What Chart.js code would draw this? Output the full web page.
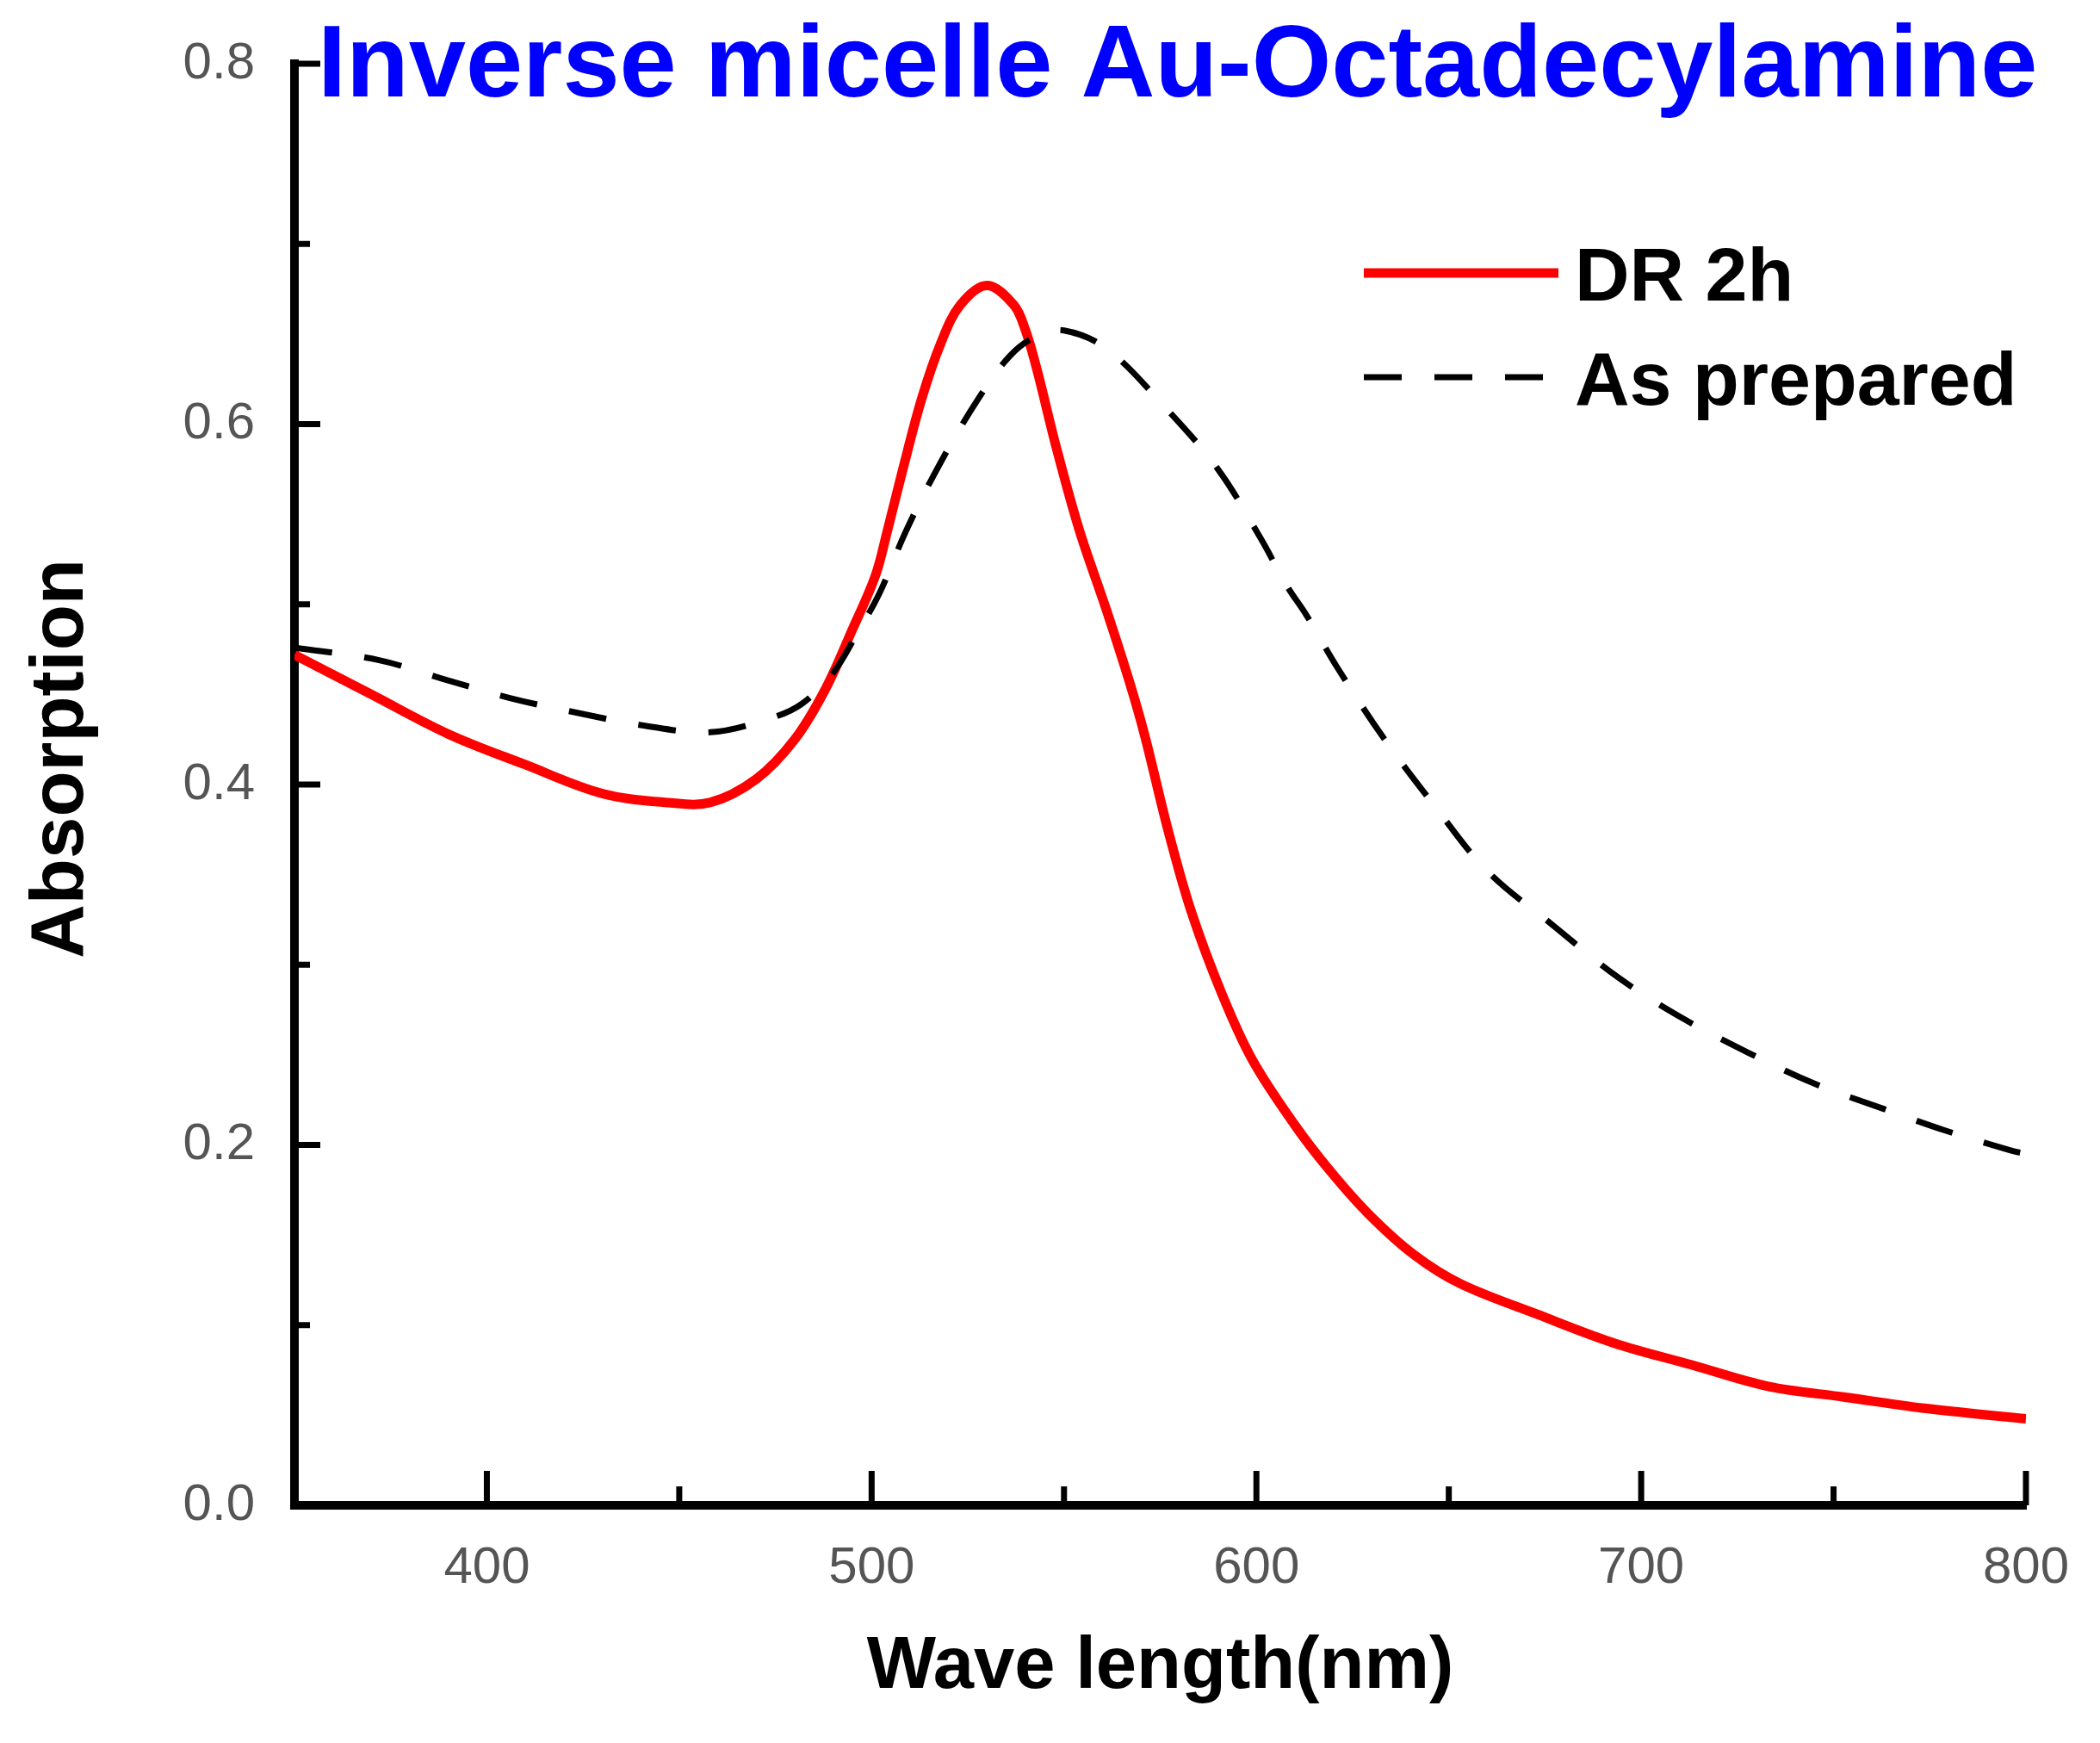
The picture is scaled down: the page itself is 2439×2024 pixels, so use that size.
<!DOCTYPE html>
<html>
<head>
<meta charset="utf-8">
<script src="https://cdn.jsdelivr.net/npm/chart.js@4.4.1/dist/chart.umd.min.js"></script>
<style>
  html, body { margin: 0; padding: 0; background: #fff; }
  #wrap { width: 2439px; height: 2024px; }
</style>
</head>
<body>
<div id="wrap"><canvas id="chart" width="2439" height="2024"></canvas></div>
<script>
const chartTitle = 'Inverse micelle Au-Octadecylamine';
const xAxisTitle = 'Wave length(nm)';
const yAxisTitle = 'Absorption';
const seriesLabels = ['DR 2h', 'As prepared'];
const xMajorTicks = [400, 500, 600, 700, 800];
const yMajorTicks = [0, 0.2, 0.4, 0.6, 0.8];

// DR 2h (red, solid)
const wavelengthDR = [350, 370, 390, 410, 430, 447, 458, 470, 480, 488, 495, 501, 504, 508, 513, 518, 523, 530, 537, 540, 543, 548, 554, 561, 567, 571, 577, 583, 591, 599, 610, 619, 629, 641, 653, 673, 693, 713, 733, 753, 773, 800];
const absorptionDR = [0.472, 0.450, 0.428, 0.411, 0.395, 0.390, 0.390, 0.403, 0.425, 0.453, 0.486, 0.516, 0.540, 0.574, 0.614, 0.645, 0.666, 0.677, 0.666, 0.652, 0.630, 0.587, 0.541, 0.497, 0.457, 0.427, 0.375, 0.330, 0.284, 0.247, 0.211, 0.186, 0.162, 0.139, 0.123, 0.106, 0.090, 0.078, 0.066, 0.060, 0.054, 0.048];

// As prepared (black, dashed)
const wavelengthAP = [350, 372, 388, 406, 423, 440, 458, 474, 482, 490, 496, 502, 509, 518, 528, 536, 543, 550, 561, 576, 590, 601, 608, 613, 621, 633, 646, 660, 677, 694, 711, 728, 745, 763, 779, 796, 800];
const absorptionAP = [0.476, 0.469, 0.459, 0.448, 0.440, 0.433, 0.429, 0.437, 0.445, 0.462, 0.483, 0.506, 0.541, 0.579, 0.615, 0.638, 0.649, 0.652, 0.642, 0.610, 0.575, 0.537, 0.510, 0.494, 0.465, 0.426, 0.389, 0.352, 0.322, 0.293, 0.270, 0.251, 0.234, 0.220, 0.208, 0.197, 0.195];

const FONT = "'Liberation Sans', Arial, Helvetica, sans-serif";

const toPoints = (xs, ys) => xs.map((x, i) => ({ x: x, y: ys[i] }));
const isMajorY = v => yMajorTicks.some(m => Math.abs(m - v) < 1e-6);

// inward tick marks, titles and legend
const decorPlugin = {
    id: 'decor',
    afterDraw(chart) {
        const ctx = chart.ctx;
        const { left, top, bottom } = chart.chartArea;
        const xs = chart.scales.x;
        const ys = chart.scales.y;

        ctx.save();
        ctx.strokeStyle = '#000';
        ctx.lineWidth = 7;
        xs.ticks.forEach(t => {
            const px = xs.getPixelForValue(t.value);
            const len = xMajorTicks.includes(t.value) ? 40 : 22;
            ctx.beginPath();
            ctx.moveTo(px, bottom);
            ctx.lineTo(px, bottom - len);
            ctx.stroke();
        });
        ys.ticks.forEach(t => {
            const py = ys.getPixelForValue(t.value);
            const len = isMajorY(t.value) ? 30 : 18;
            ctx.beginPath();
            ctx.moveTo(left, py);
            ctx.lineTo(left + len, py);
            ctx.stroke();
        });

        // y axis title (sits a little above the plot centre)
        ctx.save();
        ctx.translate(72, (top + bottom) / 2 - 30);
        ctx.rotate(-Math.PI / 2);
        ctx.fillStyle = '#000';
        ctx.font = `bold 87px ${FONT}`;
        ctx.textAlign = 'center';
        ctx.textBaseline = 'middle';
        ctx.fillText(yAxisTitle, 0, 0);
        ctx.restore();

        // title
        ctx.fillStyle = '#0000ff';
        ctx.font = `bold 119px ${FONT}`;
        ctx.textAlign = 'left';
        ctx.textBaseline = 'alphabetic';
        ctx.fillText(chartTitle, 369, 112);

        // legend
        const rowsY = [317, 438];
        chart.data.datasets.forEach((ds, i) => {
            const y = rowsY[i];
            const x0 = 1584;
            ctx.strokeStyle = ds.borderColor;
            ctx.lineWidth = ds.borderWidth;
            let x1 = x0 + 226;
            if (ds.borderDash) {
                ctx.setLineDash(ds.borderDash);
                x1 = x0 + 3 * ds.borderDash[0] + 2 * ds.borderDash[1];
            } else {
                ctx.setLineDash([]);
            }
            ctx.beginPath();
            ctx.moveTo(x0, y);
            ctx.lineTo(x1, y);
            ctx.stroke();
            ctx.setLineDash([]);
            ctx.fillStyle = '#000';
            ctx.font = `bold 88px ${FONT}`;
            ctx.fillText(ds.label, 1829, y + 32);
        });
        ctx.restore();
    }
};

const ctx = document.getElementById('chart').getContext('2d');
new Chart(ctx, {
    type: 'line',
    data: {
        datasets: [
            {
                label: seriesLabels[0],
                data: toPoints(wavelengthDR, absorptionDR),
                borderColor: '#ff0000',
                borderWidth: 11,
                pointRadius: 0,
                fill: false,
                tension: 0.35,
                order: 1
            },
            {
                label: seriesLabels[1],
                data: toPoints(wavelengthAP, absorptionAP),
                borderColor: '#000000',
                borderWidth: 7,
                borderDash: [44, 38],
                pointRadius: 0,
                fill: false,
                tension: 0.35,
                order: 0
            }
        ]
    },
    options: {
        responsive: false,
        devicePixelRatio: 1,
        animation: false,
        layout: { padding: { left: 0, right: 86, top: 47, bottom: 0 } },
        scales: {
            x: {
                type: 'linear',
                min: 350,
                max: 800,
                afterFit: s => { s.height = 276; },
                grid: { display: false },
                border: { display: true, color: '#000', width: 10 },
                ticks: {
                    stepSize: 50,
                    autoSkip: false,
                    maxRotation: 0,
                    padding: 29,
                    color: '#555',
                    font: { family: FONT, size: 60 },
                    callback: v => xMajorTicks.includes(v) ? String(v) : ''
                },
                title: {
                    display: true,
                    text: xAxisTitle,
                    color: '#000',
                    font: { family: FONT, size: 85, weight: 'bold' },
                    padding: { top: 0, bottom: 36 }
                }
            },
            y: {
                type: 'linear',
                min: 0,
                max: 0.8,
                afterFit: s => { s.width = 342; },
                grid: { display: false },
                border: { display: true, color: '#000', width: 10 },
                ticks: {
                    stepSize: 0.1,
                    autoSkip: false,
                    padding: 38,
                    color: '#555',
                    font: { family: FONT, size: 60 },
                    callback: v => isMajorY(v) ? v.toFixed(1) : ''
                },
                title: { display: false }
            }
        },
        plugins: {
            legend: { display: false },
            title: { display: false },
            tooltip: { enabled: false }
        }
    },
    plugins: [decorPlugin]
});
</script>
</body>
</html>
